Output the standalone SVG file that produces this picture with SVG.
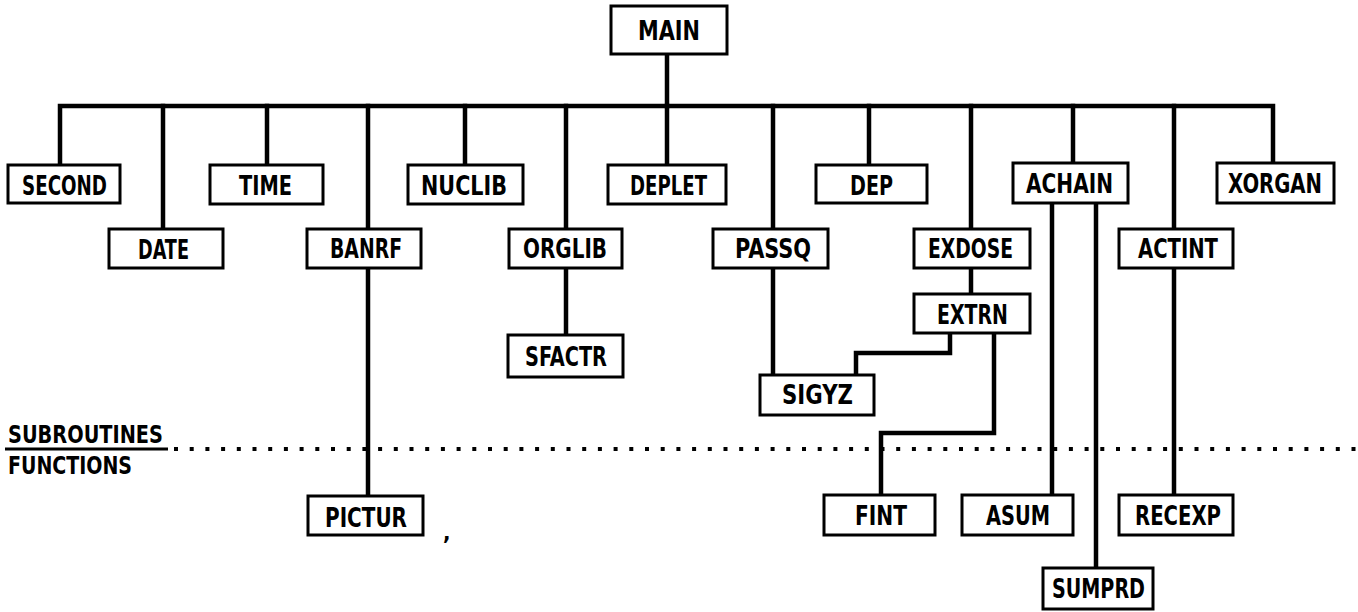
<svg xmlns="http://www.w3.org/2000/svg" width="1358" height="612" viewBox="0 0 1358 612">
<style>
.box{fill:#fff;stroke:#000;stroke-width:3}
.lbl{font-family:"DejaVu Sans Condensed","DejaVu Sans",sans-serif;font-size:26px;font-weight:bold;fill:#000}
.con{fill:none;stroke:#000;stroke-width:4.5;stroke-linejoin:miter;stroke-linecap:square}
</style>
<rect width="1358" height="612" fill="#fff"/>
<g id="connectors">
<path class="con" d="M60,165 V106 H1273 V163"/>
<path class="con" d="M667,54 V106"/>
<path class="con" d="M163,106 V229"/>
<path class="con" d="M267,106 V165"/>
<path class="con" d="M368,106 V229"/>
<path class="con" d="M368,268 V496"/>
<path class="con" d="M465,106 V165"/>
<path class="con" d="M566,106 V229"/>
<path class="con" d="M566,268 V335"/>
<path class="con" d="M667,106 V165"/>
<path class="con" d="M773,106 V229"/>
<path class="con" d="M773,268 V375"/>
<path class="con" d="M869,106 V165"/>
<path class="con" d="M971,106 V229"/>
<path class="con" d="M971,268 V294"/>
<path class="con" d="M950,333 V353 H856 V375"/>
<path class="con" d="M994,333 V433 H881 V495"/>
<path class="con" d="M1073,106 V163"/>
<path class="con" d="M1052,203 V495"/>
<path class="con" d="M1096,203 V568"/>
<path class="con" d="M1174,106 V229"/>
<path class="con" d="M1174,268 V495"/>
</g>
<g id="divider">
<line x1="5" y1="449" x2="168" y2="449" stroke="#000" stroke-width="3"/>
<line x1="174" y1="449" x2="1358" y2="449" stroke="#000" stroke-width="4" stroke-dasharray="4 11.7"/>
<text class="lbl" x="8" y="443" textLength="155" lengthAdjust="spacingAndGlyphs" style="font-size:24px">SUBROUTINES</text>
<text class="lbl" x="8" y="474" textLength="124" lengthAdjust="spacingAndGlyphs" style="font-size:24px">FUNCTIONS</text>
<text class="lbl" x="443" y="540" style="font-size:22px">,</text>
</g>
<g id="MAIN"><rect class="box" x="611" y="6" width="116" height="48"/><text class="lbl" x="638" y="40" textLength="62" lengthAdjust="spacingAndGlyphs">MAIN</text></g>
<g id="SECOND"><rect class="box" x="8" y="165" width="112" height="38"/><text class="lbl" x="22" y="195" textLength="85" lengthAdjust="spacingAndGlyphs">SECOND</text></g>
<g id="DATE"><rect class="box" x="109" y="229" width="114" height="39"/><text class="lbl" x="138" y="259" textLength="51" lengthAdjust="spacingAndGlyphs">DATE</text></g>
<g id="TIME"><rect class="box" x="210" y="165" width="113" height="39"/><text class="lbl" x="239" y="195" textLength="53" lengthAdjust="spacingAndGlyphs">TIME</text></g>
<g id="BANRF"><rect class="box" x="307" y="229" width="114" height="39"/><text class="lbl" x="330" y="258" textLength="72" lengthAdjust="spacingAndGlyphs">BANRF</text></g>
<g id="NUCLIB"><rect class="box" x="408" y="165" width="115" height="39"/><text class="lbl" x="421" y="195" textLength="86" lengthAdjust="spacingAndGlyphs">NUCLIB</text></g>
<g id="ORGLIB"><rect class="box" x="509" y="229" width="113" height="39"/><text class="lbl" x="523" y="258" textLength="84" lengthAdjust="spacingAndGlyphs">ORGLIB</text></g>
<g id="DEPLET"><rect class="box" x="608" y="165" width="118" height="39"/><text class="lbl" x="630" y="195" textLength="77" lengthAdjust="spacingAndGlyphs">DEPLET</text></g>
<g id="PASSQ"><rect class="box" x="713" y="229" width="115" height="39"/><text class="lbl" x="735" y="258" textLength="76" lengthAdjust="spacingAndGlyphs">PASSQ</text></g>
<g id="DEP"><rect class="box" x="816" y="165" width="111" height="38"/><text class="lbl" x="850" y="195" textLength="43" lengthAdjust="spacingAndGlyphs">DEP</text></g>
<g id="EXDOSE"><rect class="box" x="914" y="229" width="116" height="39"/><text class="lbl" x="928" y="258" textLength="85" lengthAdjust="spacingAndGlyphs">EXDOSE</text></g>
<g id="ACHAIN"><rect class="box" x="1013" y="163" width="115" height="40"/><text class="lbl" x="1026" y="193" textLength="87" lengthAdjust="spacingAndGlyphs">ACHAIN</text></g>
<g id="ACTINT"><rect class="box" x="1119" y="229" width="114" height="39"/><text class="lbl" x="1138" y="258" textLength="80" lengthAdjust="spacingAndGlyphs">ACTINT</text></g>
<g id="XORGAN"><rect class="box" x="1217" y="163" width="117" height="40"/><text class="lbl" x="1228" y="193" textLength="94" lengthAdjust="spacingAndGlyphs">XORGAN</text></g>
<g id="EXTRN"><rect class="box" x="914" y="294" width="116" height="39"/><text class="lbl" x="937" y="324" textLength="71" lengthAdjust="spacingAndGlyphs">EXTRN</text></g>
<g id="SFACTR"><rect class="box" x="508" y="335" width="115" height="42"/><text class="lbl" x="525" y="366" textLength="82" lengthAdjust="spacingAndGlyphs">SFACTR</text></g>
<g id="SIGYZ"><rect class="box" x="760" y="375" width="114" height="40"/><text class="lbl" x="782" y="404" textLength="71" lengthAdjust="spacingAndGlyphs">SIGYZ</text></g>
<g id="PICTUR"><rect class="box" x="308" y="496" width="115" height="39"/><text class="lbl" x="325" y="527" textLength="82" lengthAdjust="spacingAndGlyphs">PICTUR</text></g>
<g id="FINT"><rect class="box" x="824" y="495" width="111" height="40"/><text class="lbl" x="855" y="525" textLength="52" lengthAdjust="spacingAndGlyphs">FINT</text></g>
<g id="ASUM"><rect class="box" x="962" y="495" width="111" height="40"/><text class="lbl" x="986" y="525" textLength="64" lengthAdjust="spacingAndGlyphs">ASUM</text></g>
<g id="RECEXP"><rect class="box" x="1119" y="495" width="114" height="40"/><text class="lbl" x="1135" y="525" textLength="86" lengthAdjust="spacingAndGlyphs">RECEXP</text></g>
<g id="SUMPRD"><rect class="box" x="1043" y="568" width="110" height="41"/><text class="lbl" x="1052" y="598" textLength="93" lengthAdjust="spacingAndGlyphs">SUMPRD</text></g>
</svg>
